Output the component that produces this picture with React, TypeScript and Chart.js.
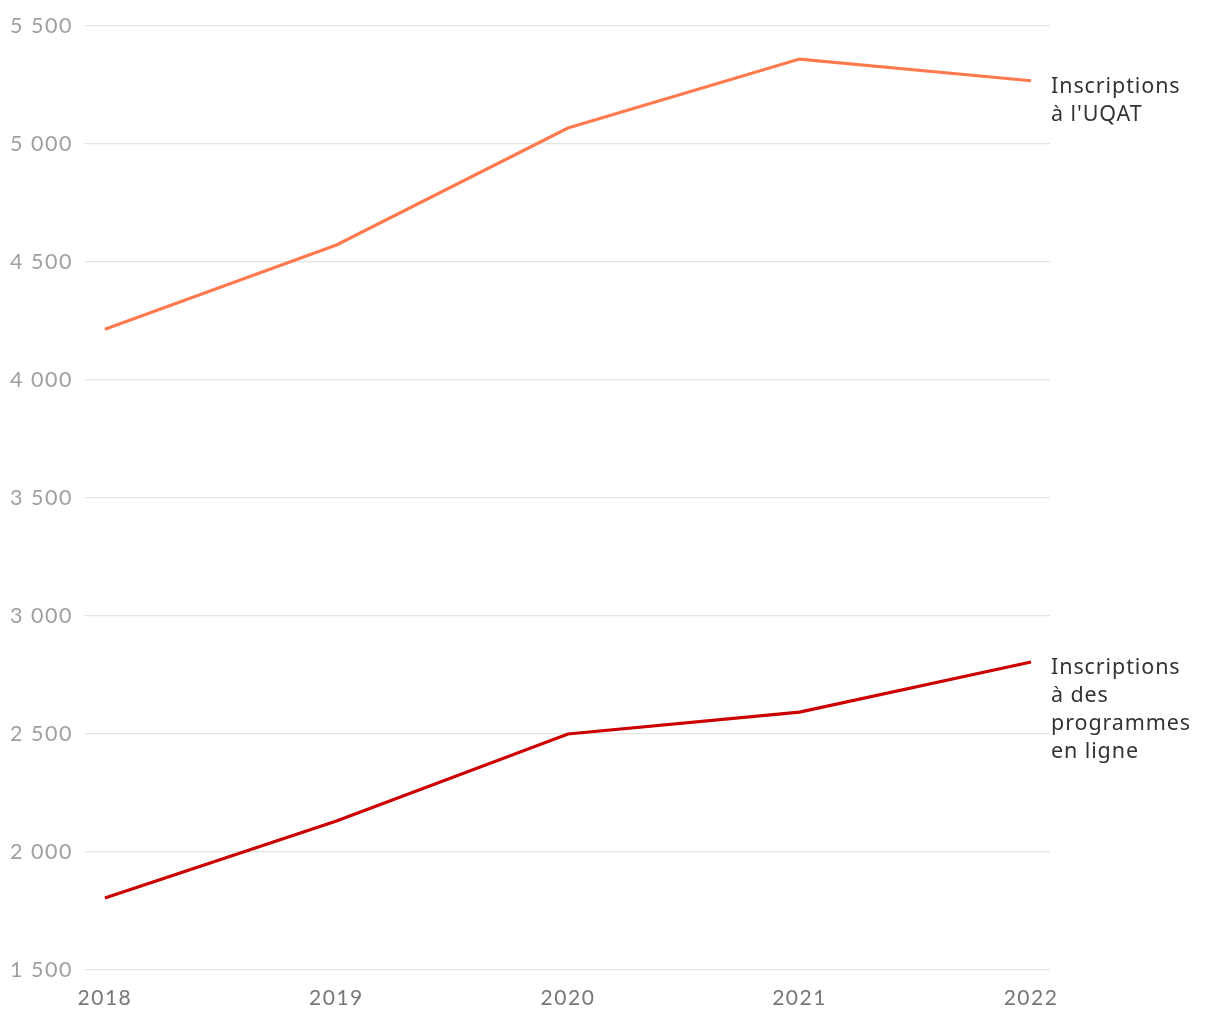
import React, { useEffect, useRef } from "react";
import { Chart, registerables } from "chart.js";

Chart.register(...registerables);

const years = [2018, 2019, 2020, 2021, 2022];
const uqat = [4215, 4572, 5068, 5360, 5268];
const enLigne = [1805, 2131, 2500, 2593, 2805];
const yTicks = [1500, 2000, 2500, 3000, 3500, 4000, 4500, 5000, 5500];
const labelUqat = ["Inscriptions", "à l'UQAT"];
const labelEnLigne = ["Inscriptions", "à des", "programmes", "en ligne"];

const ORANGE = "#FF7A4F";
const RED = "#CC0000";

const spacing = {
  id: "spacing",
  beforeDraw(chart: any) {
    (chart.ctx as any).letterSpacing = "1.5px";
  },
  afterDraw(chart: any) {
    (chart.ctx as any).letterSpacing = "0px";
  },
};

const endLabels = {
  id: "endLabels",
  afterDatasetsDraw(chart: any) {
    const ctx = chart.ctx;
    ctx.save();
    (ctx as any).letterSpacing = "0.9px";
    ctx.font = "21.5px 'Noto Sans'";
    ctx.fillStyle = "#333333";
    ctx.textAlign = "left";
    ctx.textBaseline = "middle";
    chart.data.datasets.forEach((ds: any, i: number) => {
      const meta = chart.getDatasetMeta(i);
      const pt = meta.data[meta.data.length - 1];
      const lines: string[] = ds.endLabel;
      lines.forEach((ln, j) => {
        ctx.fillText(ln, pt.x + 20, pt.y + 6 + j * 28);
      });
    });
    ctx.restore();
  },
};

export default function App() {
  const ref = useRef<HTMLCanvasElement>(null);
  useEffect(() => {
    const chart = new Chart(ref.current!, {
      type: "line",
      data: {
        datasets: [
          {
            data: years.map((y, i) => ({ x: y, y: uqat[i] })),
            borderColor: ORANGE,
            borderWidth: 3.2,
            pointRadius: 0,
            tension: 0,
            endLabel: labelUqat,
          } as any,
          {
            data: years.map((y, i) => ({ x: y, y: enLigne[i] })),
            borderColor: RED,
            borderWidth: 3.2,
            pointRadius: 0,
            tension: 0,
            endLabel: labelEnLigne,
          } as any,
        ],
      },
      options: {
        animation: false,
        responsive: false,
        maintainAspectRatio: false,
        layout: { padding: { left: 10, right: 170, top: 26, bottom: 0 } },
        plugins: { legend: { display: false }, tooltip: { enabled: false } },
        scales: {
          x: {
            type: "linear",
            min: 2017.914,
            max: 2022.082,
            afterBuildTicks: (s: any) => {
              s.ticks = years.map((v) => ({ value: v }));
            },
            afterFit: (s: any) => {
              s.height = 50;
            },
            grid: { display: false, drawTicks: false },
            border: { display: false },
            ticks: {
              padding: 16,
              color: "#777777",
              font: { family: "Lato", size: 21 },
              maxRotation: 0,
              autoSkip: false,
              callback: (v: any) => String(v),
            },
          },
          y: {
            min: 1500,
            max: 5500,
            afterBuildTicks: (s: any) => {
              s.ticks = yTicks.map((v) => ({ value: v }));
            },
            afterFit: (s: any) => {
              s.width = 75;
            },
            grid: { color: "#e3e3e3", lineWidth: 1.2, drawTicks: false },
            border: { display: false },
            ticks: {
              crossAlign: "far",
              padding: 0,
              color: "#a0a0a0",
              font: { family: "Lato", size: 21.5 },
              callback: (v: any) => String(v).replace(/\B(?=(\d{3})+(?!\d))/g, " "),
            },
          },
        },
      } as any,
      plugins: [spacing, endLabels],
    });
    return () => chart.destroy();
  }, []);
  return (
    <div style={{ position: "fixed", left: 0, top: 0, width: 1220, height: 1020, background: "#fff" }}>
      <canvas ref={ref} width={1220} height={1020} style={{ width: 1220, height: 1020 }} />
    </div>
  );
}
